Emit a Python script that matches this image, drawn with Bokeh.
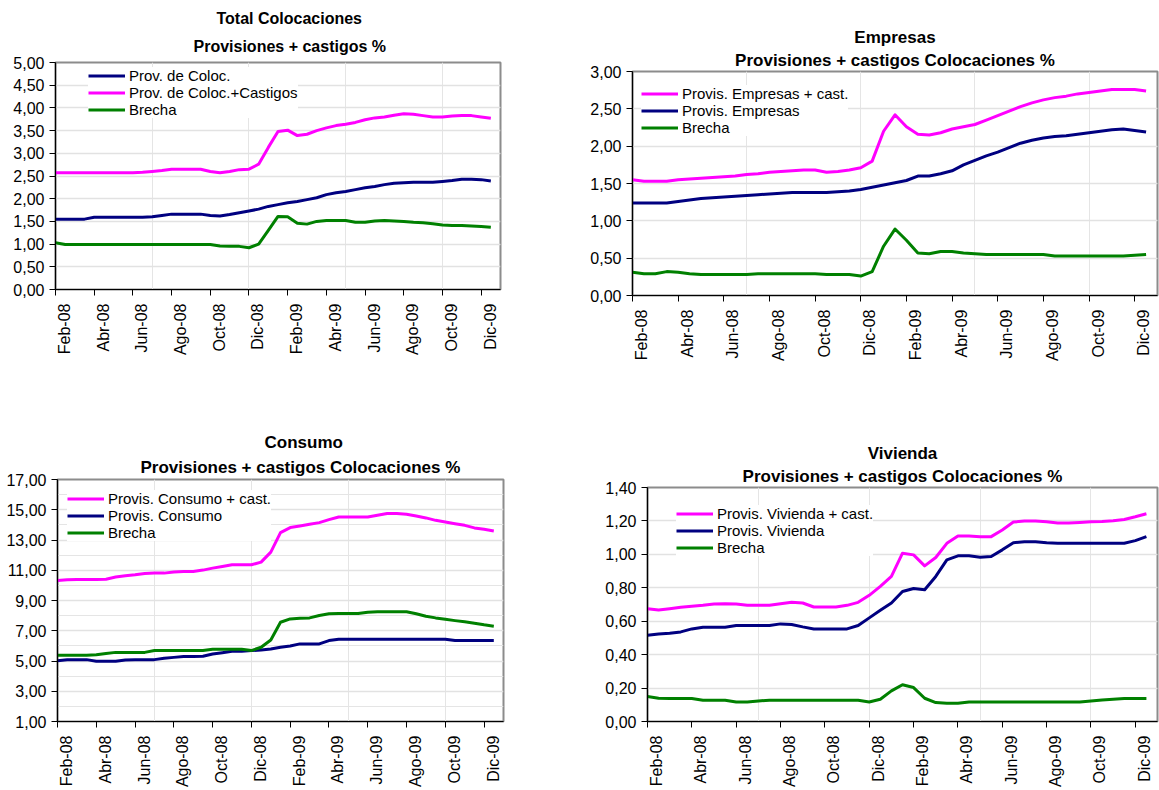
import math
from bokeh.plotting import figure
from bokeh.models import (Range1d, FixedTicker, LinearAxis, CustomJSTickFormatter,
                          Legend, LegendItem, Title, Grid)
from bokeh.layouts import column, row
from bokeh.embed import file_html
from bokeh.resources import INLINE

# Month positions (months after Feb-08), half-month steps
meses = [0.0, 0.5, 1.0, 1.5, 2.0, 2.5, 3.0, 3.5, 4.0, 4.5,
         5.0, 5.5, 6.0, 6.5, 7.0, 7.5, 8.0, 8.5, 9.0, 9.5,
         10.0, 10.5, 11.0, 11.5, 12.0, 12.5, 13.0, 13.5, 14.0, 14.5,
         15.0, 15.5, 16.0, 16.5, 17.0, 17.5, 18.0, 18.5, 19.0, 19.5,
         20.0, 20.5, 21.0, 21.5, 22.0, 22.5]

etiquetas = ["Feb-08", "Abr-08", "Jun-08", "Ago-08", "Oct-08", "Dic-08",
             "Feb-09", "Abr-09", "Jun-09", "Ago-09", "Oct-09", "Dic-09"]
pos_etiquetas = [0, 2, 4, 6, 8, 10, 12, 14, 16, 18, 20, 22]

# --- Total Colocaciones ---
total_prov = [1.55, 1.55, 1.55, 1.55, 1.59, 1.59, 1.59, 1.59, 1.59, 1.59,
              1.60, 1.63, 1.66, 1.66, 1.66, 1.66, 1.63, 1.62, 1.65, 1.69,
              1.73, 1.77, 1.83, 1.87, 1.91, 1.94, 1.98, 2.02, 2.09, 2.13,
              2.16, 2.20, 2.24, 2.27, 2.31, 2.34, 2.35, 2.36, 2.36, 2.36,
              2.38, 2.40, 2.43, 2.43, 2.42, 2.39]
total_prov_cast = [2.57, 2.57, 2.57, 2.57, 2.57, 2.57, 2.57, 2.57, 2.57, 2.58,
                   2.60, 2.62, 2.65, 2.65, 2.65, 2.65, 2.60, 2.57, 2.60, 2.64,
                   2.65, 2.76, 3.13, 3.48, 3.51, 3.39, 3.42, 3.50, 3.56, 3.61,
                   3.64, 3.68, 3.74, 3.78, 3.80, 3.84, 3.87, 3.86, 3.83, 3.80,
                   3.80, 3.82, 3.83, 3.83, 3.80, 3.77]
total_brecha = [1.03, 0.99, 0.99, 0.99, 0.99, 0.99, 0.99, 0.99, 0.99, 0.99,
                0.99, 0.99, 0.99, 0.99, 0.99, 0.99, 0.99, 0.96, 0.95, 0.95,
                0.92, 1.00, 1.30, 1.61, 1.60, 1.46, 1.44, 1.50, 1.52, 1.52,
                1.52, 1.48, 1.48, 1.51, 1.52, 1.51, 1.50, 1.48, 1.47, 1.45,
                1.42, 1.41, 1.41, 1.40, 1.39, 1.37]

# --- Empresas ---
emp_cast = [1.55, 1.53, 1.53, 1.53, 1.55, 1.56, 1.57, 1.58, 1.59, 1.60,
            1.62, 1.63, 1.65, 1.66, 1.67, 1.68, 1.68, 1.65, 1.66, 1.68,
            1.71, 1.80, 2.20, 2.42, 2.26, 2.16, 2.15, 2.18, 2.23, 2.26,
            2.29, 2.35, 2.41, 2.47, 2.53, 2.58, 2.62, 2.65, 2.67, 2.70,
            2.72, 2.74, 2.76, 2.76, 2.76, 2.74]
emp_prov = [1.24, 1.24, 1.24, 1.24, 1.26, 1.28, 1.30, 1.31, 1.32, 1.33,
            1.34, 1.35, 1.36, 1.37, 1.38, 1.38, 1.38, 1.38, 1.39, 1.40,
            1.42, 1.45, 1.48, 1.51, 1.54, 1.60, 1.60, 1.63, 1.67, 1.75,
            1.81, 1.87, 1.92, 1.98, 2.04, 2.08, 2.11, 2.13, 2.14, 2.16,
            2.18, 2.20, 2.22, 2.23, 2.21, 2.19]
emp_brecha = [0.31, 0.29, 0.29, 0.32, 0.31, 0.29, 0.28, 0.28, 0.28, 0.28,
              0.28, 0.29, 0.29, 0.29, 0.29, 0.29, 0.29, 0.28, 0.28, 0.28,
              0.26, 0.32, 0.66, 0.89, 0.74, 0.57, 0.56, 0.59, 0.59, 0.57,
              0.56, 0.55, 0.55, 0.55, 0.55, 0.55, 0.55, 0.53, 0.53, 0.53,
              0.53, 0.53, 0.53, 0.53, 0.54, 0.55]

# --- Consumo ---
cons_cast = [10.33, 10.37, 10.39, 10.39, 10.39, 10.41, 10.55, 10.64, 10.70, 10.79,
             10.81, 10.81, 10.88, 10.92, 10.92, 11.01, 11.14, 11.25, 11.36, 11.36,
             11.36, 11.54, 12.20, 13.49, 13.82, 13.93, 14.04, 14.15, 14.35, 14.52,
             14.52, 14.52, 14.52, 14.64, 14.75, 14.75, 14.70, 14.59, 14.46, 14.30,
             14.19, 14.08, 13.97, 13.80, 13.71, 13.60]
cons_prov = [5.02, 5.09, 5.09, 5.09, 4.98, 4.98, 4.98, 5.07, 5.09, 5.09,
             5.09, 5.18, 5.24, 5.29, 5.29, 5.31, 5.46, 5.55, 5.64, 5.64,
             5.69, 5.73, 5.80, 5.91, 5.99, 6.13, 6.13, 6.13, 6.35, 6.44,
             6.44, 6.44, 6.44, 6.44, 6.44, 6.44, 6.44, 6.44, 6.44, 6.44,
             6.44, 6.35, 6.35, 6.35, 6.35, 6.35]
cons_brecha = [5.38, 5.38, 5.38, 5.38, 5.42, 5.49, 5.57, 5.57, 5.57, 5.57,
               5.69, 5.69, 5.69, 5.69, 5.69, 5.69, 5.77, 5.77, 5.77, 5.77,
               5.69, 5.91, 6.39, 7.56, 7.78, 7.83, 7.85, 8.01, 8.12, 8.14,
               8.14, 8.14, 8.23, 8.25, 8.25, 8.25, 8.25, 8.12, 7.96, 7.85,
               7.76, 7.67, 7.59, 7.50, 7.39, 7.30]

# --- Vivienda ---
viv_cast = [0.675, 0.667, 0.675, 0.683, 0.689, 0.695, 0.703, 0.705, 0.703, 0.695,
            0.695, 0.695, 0.705, 0.713, 0.709, 0.685, 0.685, 0.685, 0.695, 0.713,
            0.755, 0.808, 0.868, 1.007, 0.997, 0.931, 0.981, 1.066, 1.110, 1.110,
            1.106, 1.106, 1.146, 1.193, 1.199, 1.199, 1.195, 1.187, 1.187, 1.191,
            1.195, 1.197, 1.201, 1.209, 1.225, 1.243]
viv_prov = [0.516, 0.524, 0.528, 0.536, 0.554, 0.564, 0.564, 0.564, 0.574, 0.574,
            0.574, 0.574, 0.584, 0.580, 0.566, 0.554, 0.554, 0.554, 0.554, 0.574,
            0.620, 0.665, 0.709, 0.778, 0.796, 0.788, 0.868, 0.967, 0.991, 0.991,
            0.983, 0.987, 1.027, 1.070, 1.076, 1.076, 1.070, 1.066, 1.066, 1.066,
            1.066, 1.066, 1.066, 1.066, 1.082, 1.106]
viv_brecha = [0.149, 0.139, 0.137, 0.137, 0.137, 0.127, 0.127, 0.127, 0.117, 0.117,
              0.123, 0.127, 0.127, 0.127, 0.127, 0.127, 0.127, 0.127, 0.127, 0.127,
              0.117, 0.133, 0.183, 0.220, 0.203, 0.139, 0.113, 0.109, 0.109, 0.117,
              0.117, 0.117, 0.117, 0.117, 0.117, 0.117, 0.117, 0.117, 0.117, 0.117,
              0.123, 0.129, 0.133, 0.137, 0.137, 0.137]

MAGENTA = "#FF00FF"
NAVY = "#000080"
GREEN = "#008000"
FONT = "Liberation Sans"


def make_panel(W, H, fl, fr, ft, fb, t1, t2, tsize, s1, s2, toffs, ylo, yhi, yticks,
               series, leg_dx, leg_mid):
    p = figure(width=W, height=H, x_range=Range1d(0, 23), y_range=Range1d(ylo, yhi),
               output_backend="svg", toolbar_location=None,
               x_axis_location=None, y_axis_location=None,
               min_border_left=fl, min_border_right=fr,
               min_border_top=ft, min_border_bottom=fb)
    p.frame_align = False
    p.outline_line_color = "#8c8c8c"
    p.outline_line_width = 2
    p.background_fill_color = "white"
    p.border_fill_color = "white"

    ytk = FixedTicker(ticks=yticks)
    yax = LinearAxis(ticker=ytk,
                     formatter=CustomJSTickFormatter(code="return tick.toFixed(2).replace('.', ',');"),
                     axis_line_color="black", axis_line_width=1.2,
                     major_tick_out=6, major_tick_in=0, minor_tick_out=0, minor_tick_in=0,
                     major_label_standoff=5,
                     major_label_text_font=FONT, major_label_text_font_size="16px",
                     major_label_text_color="black")
    p.add_layout(yax, "left")
    p.add_layout(Grid(dimension=1, ticker=ytk, grid_line_color="#e2e2e2", grid_line_width=1.5))

    frame_w = W - fl - fr
    frame_h = H - ft - fb
    off = 9.0 / (frame_w / 23.0)

    # labels sit slightly right of the tick marks (minor ticks carry the marks)
    xtk = FixedTicker(ticks=[t + off for t in pos_etiquetas], minor_ticks=pos_etiquetas)
    xb = LinearAxis(ticker=xtk,
                    formatter=CustomJSTickFormatter(args=dict(labels=etiquetas, off=off),
                                                    code="return labels[Math.round((tick - off) / 2)];"),
                    axis_line_color="black", axis_line_width=1.2,
                    major_tick_line_color=None, major_tick_out=0, major_tick_in=0,
                    minor_tick_line_color="black", minor_tick_out=6, minor_tick_in=0,
                    major_label_orientation=math.pi / 2, major_label_standoff=8,
                    major_label_text_font=FONT, major_label_text_font_size="16px",
                    major_label_text_color="black")
    p.add_layout(xb, "below")

    items = []
    for label, vals, color in series:
        r = p.line(meses, vals, line_color=color, line_width=3, line_join="round")
        items.append(LegendItem(label=label, renderers=[r]))

    pad = 5
    rowh = 17
    n = len(series)
    leg_h = n * rowh + 2 * pad - 6
    top_off = leg_mid - rowh * 1.5 - pad
    ly = frame_h - top_off - leg_h
    leg = Legend(items=items, location=(leg_dx - pad, ly), padding=pad, spacing=0,
                 margin=0, label_height=15, glyph_height=15, glyph_width=37,
                 label_standoff=4, label_text_font=FONT, label_text_font_size="15px",
                 label_text_color="black", border_line_color=None,
                 background_fill_color="white", background_fill_alpha=1.0)
    p.add_layout(leg, "center")

    # nearest title first, then the upper line
    if toffs is None:
        al, o1, o2 = "center", 0, 0
    else:
        al, o1, o2 = "left", toffs[0], toffs[1]
    p.add_layout(Title(text=t2, align=al, offset=o2, text_font=FONT,
                       text_font_size=tsize, text_font_style="bold", text_color="black",
                       standoff=s2), "above")
    p.add_layout(Title(text=t1, align=al, offset=o1, text_font=FONT,
                       text_font_size=tsize, text_font_style="bold", text_color="black",
                       standoff=s1), "above")
    return p


p1 = make_panel(580, 400, 55, 80, 62, 111, "Total Colocaciones", "Provisiones + castigos %",
                "16px", 3, 15, (161, 138), 0, 5, [0, 0.5, 1, 1.5, 2, 2.5, 3, 3.5, 4, 4.5, 5],
                [("Prov. de Coloc.", total_prov, NAVY),
                 ("Prov. de Coloc.+Castigos", total_prov_cast, MAGENTA),
                 ("Brecha", total_brecha, GREEN)], 38, 31)

p2 = make_panel(579, 400, 52, 2, 71, 105, "Empresas", "Provisiones + castigos Colocaciones %",
                "17px", 0, 4, None, 0, 3, [0, 0.5, 1, 1.5, 2, 2.5, 3],
                [("Provis. Empresas + cast.", emp_cast, MAGENTA),
                 ("Provis. Empresas", emp_prov, NAVY),
                 ("Brecha", emp_brecha, GREEN)], 14, 40)

p3 = make_panel(580, 390, 57, 77, 79, 69, "Consumo", "Provisiones + castigos Colocaciones %",
                "17px", 2, 6, (207, 83), 1, 17, [1, 3, 5, 7, 9, 11, 13, 15, 17],
                [("Provis. Consumo + cast.", cons_cast, MAGENTA),
                 ("Provis. Consumo", cons_prov, NAVY),
                 ("Brecha", cons_brecha, GREEN)], 15, 37)

p4 = make_panel(579, 390, 67, 2, 87, 68, "Vivienda", "Provisiones + castigos Colocaciones %",
                "17px", 1, 3, None, 0, 1.4, [0, 0.2, 0.4, 0.6, 0.8, 1.0, 1.2, 1.4],
                [("Provis. Vivienda + cast.", viv_cast, MAGENTA),
                 ("Provis. Vivienda", viv_prov, NAVY),
                 ("Brecha", viv_brecha, GREEN)], 34, 45)

layout = column(row(p1, p2), row(p3, p4))
open("out.html", "w").write(file_html(layout, INLINE))
